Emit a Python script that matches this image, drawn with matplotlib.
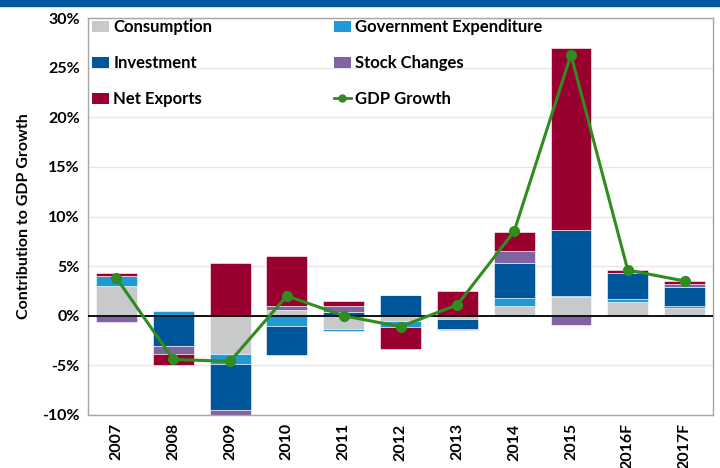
import numpy as np
import matplotlib
matplotlib.use("Agg")
import matplotlib.pyplot as plt
from matplotlib.patches import Rectangle, Patch
from matplotlib.lines import Line2D
from matplotlib.ticker import FuncFormatter

# DATA (contribution to GDP growth, percentage points)
years = ["2007", "2008", "2009", "2010", "2011", "2012", "2013", "2014", "2015", "2016F", "2017F"]
consumption = [3.0, 0.0, -3.9, 0.6, -1.3, -0.57, -0.3, 1.0, 1.85, 1.35, 0.8]
government = [1.05, 0.45, -0.95, -1.0, -0.27, -0.6, 0.0, 0.8, 0.15, 0.35, 0.15]
investment = [0.0, -3.0, -4.6, -3.0, 0.35, 2.1, -1.05, 3.5, 6.65, 2.6, 1.95]
stock_changes = [-0.6, -0.85, -0.5, 0.4, 0.6, 0.0, -0.05, 1.25, -0.9, 0.0, 0.3]
net_exports = [0.25, -1.1, 5.3, 5.0, 0.5, -2.15, 2.45, 1.85, 18.35, 0.3, 0.3]
gdp_growth = [3.8, -4.4, -4.6, 2.0, 0.0, -1.1, 1.1, 8.5, 26.3, 4.6, 3.5]

series = [
    ("Consumption", consumption, "#C8C9CB"),
    ("Government Expenditure", government, "#1F9AD6"),
    ("Investment", investment, "#00569A"),
    ("Stock Changes", stock_changes, "#8064A2"),
    ("Net Exports", net_exports, "#990030"),
]
GREEN = "#2F8C1E"

plt.rcParams['font.family'] = ['Lato', 'DejaVu Sans']
plt.rcParams['font.weight'] = 'bold'

fig = plt.figure(figsize=(7.2, 4.68), dpi=100)
ax = fig.add_axes([88 / 720, 1 - 415 / 468, 625 / 720, 397 / 468])

# top banner
fig.patches.append(Rectangle((0, 1 - 6 / 468), 1, 6 / 468, transform=fig.transFigure,
                             color="#00579C", zorder=0))

x = np.arange(len(years))
pos_base = np.zeros(len(years))
neg_base = np.zeros(len(years))
for name, vals, col in series:
    v = np.array(vals)
    bottom = np.where(v >= 0, pos_base, neg_base)
    ax.bar(x, v, 0.72, bottom=bottom, color=col, edgecolor="white", linewidth=0.4, zorder=2)
    pos_base = pos_base + np.where(v > 0, v, 0)
    neg_base = neg_base + np.where(v < 0, v, 0)

ax.plot(x, gdp_growth, color=GREEN, linewidth=2.2, marker="o", markersize=7, zorder=4)
ax.axhline(0, color="black", linewidth=1.3, zorder=3)

ax.set_xlim(-0.5, len(years) - 0.5)
ax.set_ylim(-10, 30)
ax.set_yticks(np.arange(-10, 31, 5))
ax.yaxis.set_major_formatter(FuncFormatter(lambda v, p: f"{v:.0f}%"))
ax.set_xticks(x)
ax.set_xticklabels(years, rotation=90)
ax.tick_params(axis="both", length=0, labelsize=11.5, pad=6)
ax.grid(axis="y", color="#E6E6E6", linewidth=1, zorder=0)
for s in ax.spines.values():
    s.set_color("#A6A6A6")
    s.set_linewidth(1)
ax.set_ylabel("Contribution to GDP Growth", fontsize=11.5, fontweight="bold", labelpad=8)

# legend, Excel style: 2 columns
handles = {name: Patch(facecolor=col) for name, vals, col in series}
handles["GDP Growth"] = Line2D([], [], color=GREEN, linewidth=2, marker="o", markersize=5)
order = ["Consumption", "Investment", "Net Exports",
         "Government Expenditure", "Stock Changes", "GDP Growth"]
ax.legend([handles[n] for n in order], order, ncol=2, loc="upper left",
          bbox_to_anchor=(-0.017, 1.035), frameon=False, fontsize=12,
          handlelength=1.0, handleheight=0.65, handletextpad=0.25,
          labelspacing=1.2, columnspacing=7.3)

plt.savefig("out.png", dpi=100)
